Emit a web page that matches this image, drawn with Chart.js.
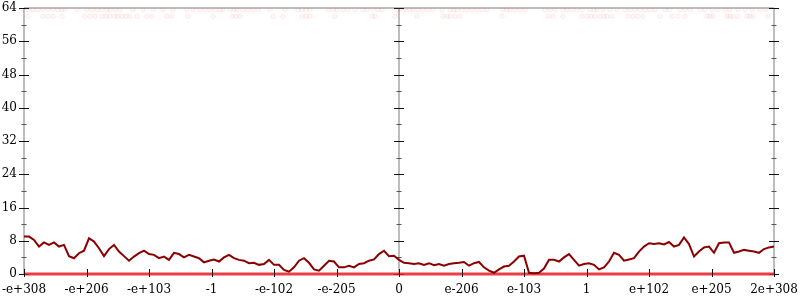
<!DOCTYPE html>
<html>

<head>
    <title>Distribution</title>
    <style>
        body {
            margin: 0;
            background: #fff;
        }
    </style>
    <script src="https://cdn.jsdelivr.net/npm/chart.js"></script>
</head>

<body>
    <canvas id="chart" width="800" height="300"></canvas>

    <script>
        // x axis runs 0..750, one tick every 62.5 units
        var xLabels = ['-e+308', '-e+206', '-e+103', '-1', '-e-102', '-e-205', '0',
            'e-206', 'e-103', '1', 'e+102', 'e+205', '2e+308'];
        var xStep = 5; // spacing of the sampled curve
        var midValue = 375; // the "0" column

        // main curve, one value every 5 units
        var curve = [
            9.0, 9.0, 8.2, 6.6, 7.6, 7.0, 7.6, 6.6, 7.0, 4.3, 3.8, 5.0, 5.6, 8.6, 7.8, 6.2, 4.3, 6.0, 7.0, 5.4,
            4.3, 3.2, 4.2, 5.0, 5.6, 4.8, 4.6, 3.8, 4.2, 3.4, 5.1, 4.8, 4.0, 4.6, 4.2, 3.8, 2.8, 3.2, 3.5, 3.0,
            4.0, 4.6, 3.8, 3.4, 3.2, 2.6, 2.7, 2.2, 2.4, 3.4, 2.2,
            2.2, 1.0, 0.55, 1.6, 3.2, 3.8, 2.7, 1.1, 0.8, 2.0, 3.2, 3.0, 1.6, 1.6, 2.0, 1.6, 2.4, 2.6, 3.2, 3.5,
            4.8, 5.6, 4.3, 4.4, 3.4, 2.7, 2.6, 2.4, 2.6, 2.2, 2.6, 2.1, 2.4, 2.0, 2.4, 2.6, 2.7, 2.9, 2.0, 2.6,
            2.9, 1.6, 0.8, 0.3, 1.1, 1.8, 2.0, 3.0, 4.2, 4.4,
            0.3, 0.2, 0.3, 1.3, 3.4, 3.4, 3.0, 4.0, 4.8, 3.4, 2.0, 2.4, 2.6, 2.2, 1.1, 1.6, 3.0, 5.1, 4.6, 3.2,
            3.5, 3.8, 5.4, 6.6, 7.4, 7.2, 7.4, 7.1, 7.7, 6.6, 7.0, 8.8, 7.2, 4.2, 5.4, 6.4, 6.6, 5.1, 7.4, 7.6,
            7.6, 5.1, 5.4, 5.8, 5.6, 5.4, 5.1, 6.0, 6.4, 6.6
        ];

        // flat red line on zero
        var baseX = [0, 750];
        var baseY = [0, 0];

        // faint markers near the top
        var faintTopY = 63.6;
        var faintTopX = [4, 9, 14, 19, 24, 29, 34, 38, 41, 53, 63, 68, 73, 78, 83, 86, 91, 96, 109, 119, 129, 139,
            149, 163, 169, 176, 181, 186, 191, 196, 199, 206, 210, 213, 219, 224, 229, 234, 246, 261, 274, 278,
            282, 286, 304, 309, 313, 319, 324, 331, 339, 343, 349, 354, 358, 373, 376, 381, 386, 389, 394, 399,
            404, 409, 418, 426, 430, 433, 438, 443, 448, 453, 458, 463, 479, 483, 486, 491, 496, 501, 521, 526,
            531, 539, 543, 548, 553, 558, 566, 570, 573, 579, 586, 593, 601, 606, 611, 616, 621, 626, 631, 641,
            646, 656, 661, 666, 676, 681, 688, 694, 701, 706, 714, 721, 728, 736, 742];
        var faintLowY = 62.0;
        var faintLowX = [4, 19, 24, 29, 38, 61, 66, 71, 78, 82, 86, 91, 94, 98, 102, 106, 113, 123, 128, 143, 148,
            164, 189, 208, 212, 216, 249, 259, 278, 282, 286, 311, 348, 351, 371, 393, 419, 423, 426, 431, 436,
            478, 524, 529, 539, 558, 563, 567, 571, 576, 580, 583, 588, 604, 609, 614, 619, 636, 648, 654, 661,
            683, 686, 689, 703, 706, 709, 714, 723, 726, 729, 744];

        var serif = "'DejaVu Serif', serif";

        // grey frame lines plus ticks that cross them
        var crossAxes = {
            id: 'crossAxes',
            beforeDatasetsDraw: function (chart) {
                var ctx = chart.ctx, a = chart.chartArea, x = chart.scales.x, y = chart.scales.y;
                var mid = x.getPixelForValue(midValue);
                ctx.save();
                ctx.strokeStyle = '#bdbdbd';
                ctx.lineWidth = 2;
                ctx.beginPath();
                ctx.moveTo(a.left, a.top); ctx.lineTo(a.right, a.top);
                [a.left, mid, a.right].forEach(function (px) {
                    ctx.moveTo(px, a.top); ctx.lineTo(px, a.bottom);
                });
                ctx.stroke();

                ctx.lineWidth = 1;
                y.ticks.forEach(function (t) {
                    var py = Math.round(y.getPixelForValue(t.value)) + 0.5;
                    var major = t.value % 8 === 0;
                    var len = major ? 5 : 2.5;
                    ctx.strokeStyle = major ? '#111' : '#555';
                    ctx.beginPath();
                    [a.left, mid, a.right].forEach(function (px) {
                        ctx.moveTo(px - len, py); ctx.lineTo(px + len, py);
                    });
                    ctx.stroke();
                });
                ctx.restore();
            },
            afterDatasetsDraw: function (chart) {
                var ctx = chart.ctx, a = chart.chartArea, x = chart.scales.x;
                ctx.save();
                ctx.strokeStyle = '#111';
                ctx.lineWidth = 1;
                ctx.beginPath();
                x.ticks.forEach(function (t) {
                    var px = Math.round(x.getPixelForValue(t.value)) + 0.5;
                    ctx.moveTo(px, a.bottom - 5); ctx.lineTo(px, a.bottom + 3);
                });
                ctx.stroke();
                ctx.restore();
            }
        };

        new Chart(document.getElementById('chart'), {
            type: 'line',
            data: {
                datasets: [
                    {
                        type: 'scatter',
                        data: faintTopX.map(function (v) { return { x: v, y: faintTopY }; })
                            .concat(faintLowX.map(function (v) { return { x: v, y: faintLowY }; })),
                        pointRadius: 2.2,
                        pointBorderWidth: 1,
                        pointBorderColor: 'rgba(235,70,70,0.09)',
                        pointBackgroundColor: 'rgba(255,140,140,0.06)',
                        order: 3
                    },
                    {
                        data: baseX.map(function (v, i) { return { x: v, y: baseY[i] }; }),
                        borderColor: 'rgba(232,28,36,0.85)',
                        borderWidth: 3,
                        pointRadius: 0,
                        clip: 6,
                        order: 2
                    },
                    {
                        data: curve.map(function (v, i) { return { x: i * xStep, y: v }; }),
                        borderColor: '#8b0000',
                        borderWidth: 2,
                        pointRadius: 0,
                        tension: 0,
                        clip: 4,
                        order: 1
                    }
                ]
            },
            options: {
                responsive: false,
                animation: false,
                layout: { padding: { top: 8, right: 26, left: 0, bottom: 0 } },
                plugins: {
                    legend: { display: false },
                    tooltip: { enabled: false }
                },
                scales: {
                    x: {
                        type: 'linear',
                        min: 0,
                        max: 750,
                        grid: { display: false, drawTicks: false },
                        border: { display: false },
                        afterFit: function (s) {
                            s.height = 26;
                            s.paddingLeft = 0; s.paddingRight = 0;
                        },
                        ticks: {
                            stepSize: 62.5,
                            autoSkip: false,
                            maxRotation: 0,
                            padding: 9,
                            color: '#000',
                            font: { family: serif, size: 12 },
                            callback: function (v, i) { return xLabels[i]; }
                        }
                    },
                    y: {
                        min: 0,
                        max: 64,
                        grid: { display: false, drawTicks: false },
                        border: { display: false },
                        afterFit: function (s) {
                            s.width = 24;
                            s.paddingTop = 0; s.paddingBottom = 0;
                        },
                        ticks: {
                            stepSize: 4,
                            autoSkip: false,
                            padding: 7,
                            color: '#000',
                            font: { family: serif, size: 12 },
                            callback: function (v) { return v % 8 === 0 ? v : ''; }
                        }
                    }
                }
            },
            plugins: [crossAxes]
        });
    </script>
</body>

</html>
